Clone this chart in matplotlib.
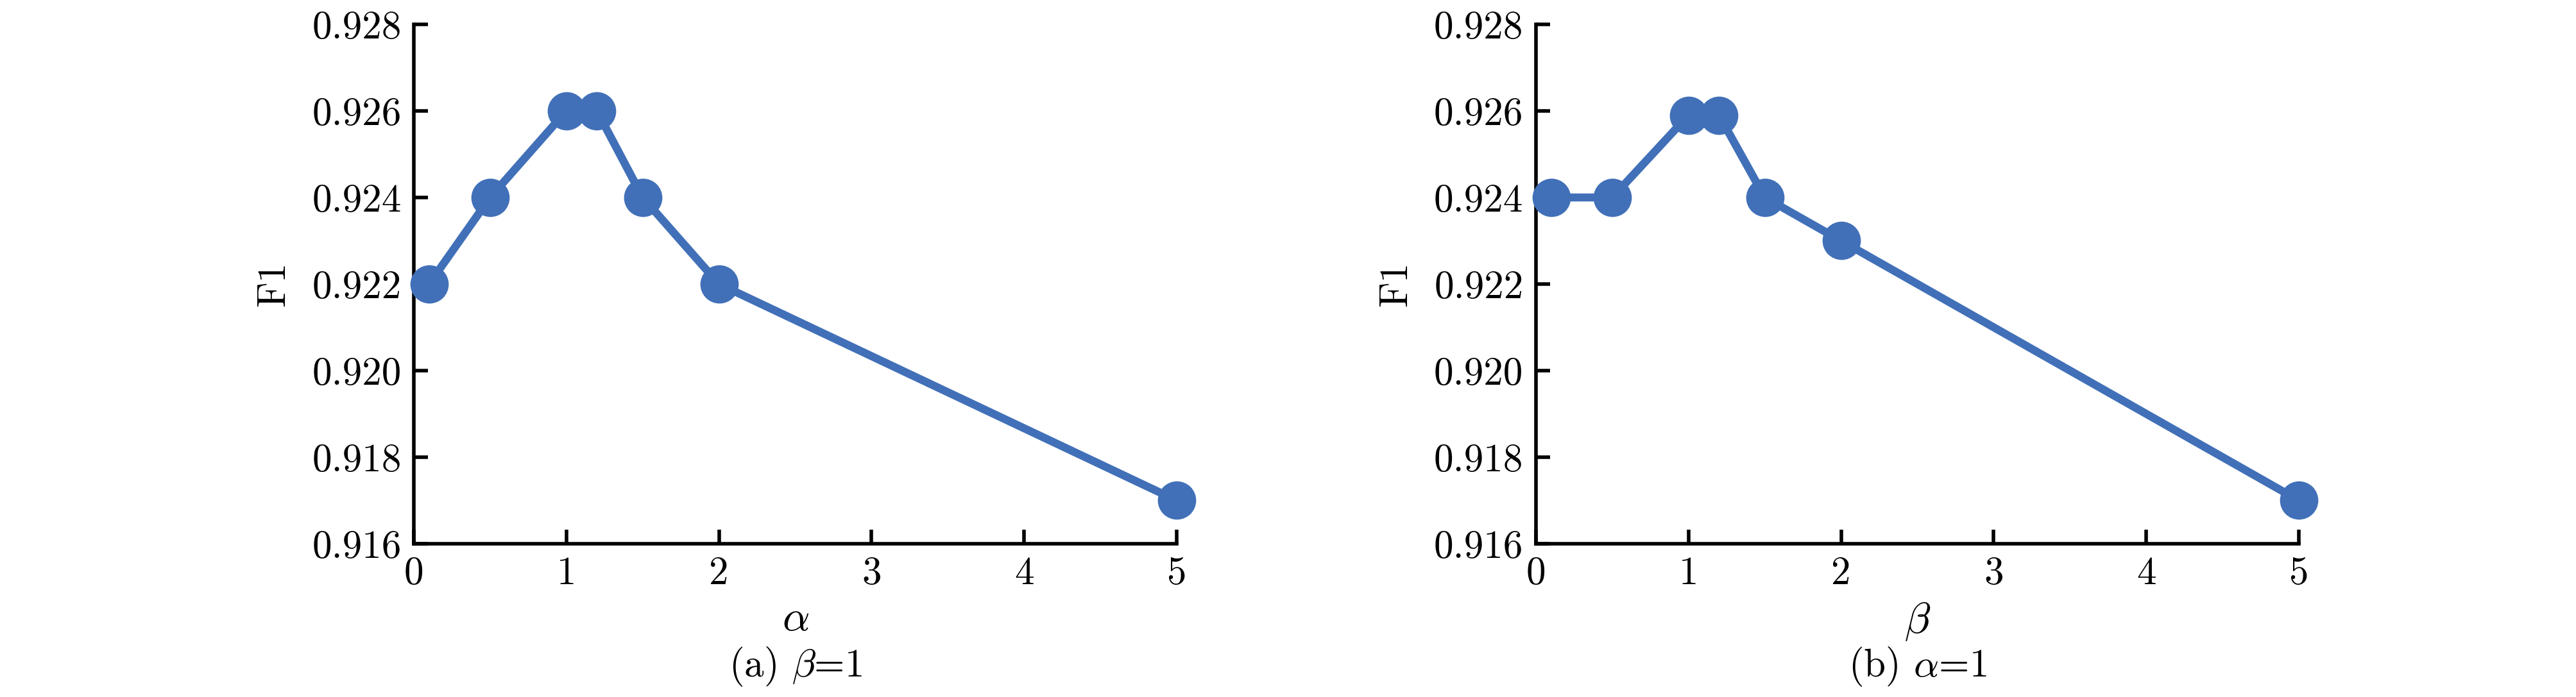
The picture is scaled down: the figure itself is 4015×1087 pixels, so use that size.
import matplotlib
matplotlib.use("Agg")
import matplotlib.pyplot as plt

# parameter values (same for both panels)
params = [0.1, 0.5, 1, 1.2, 1.5, 2, 5]
f1_alpha = [0.922, 0.924, 0.926, 0.926, 0.924, 0.922, 0.917]
f1_beta = [0.924, 0.924, 0.9259, 0.9259, 0.924, 0.923, 0.917]

xticks = [0, 1, 2, 3, 4, 5]
yticks = [0.916, 0.918, 0.920, 0.922, 0.924, 0.926, 0.928]
ytick_labels = ['0.916', '0.918', '0.920', '0.922', '0.924', '0.926', '0.928']

xlabels = [r'$\alpha$', r'$\beta$']
captions = [r'(a) $\beta$=1', r'(b) $\alpha$=1']

plt.rcParams['font.family'] = 'cmr10'
plt.rcParams['mathtext.fontset'] = 'cm'
plt.rcParams['axes.unicode_minus'] = False
f_size = 44
blue = '#4170B8'

fig = plt.figure(figsize=(40.16, 10.87), dpi=100)
ax1 = fig.add_axes([0.1606, 0.2199, 0.2961, 0.7452])
ax2 = fig.add_axes([0.5961, 0.2199, 0.2961, 0.7452])

for ax, ys, xl, cap in zip([ax1, ax2], [f1_alpha, f1_beta], xlabels, captions):
    ax.plot(params, ys, '-o', color=blue, lw=9, markersize=42, clip_on=False, zorder=3)
    ax.set_xlim(0, 5)
    ax.set_ylim(0.916, 0.928)
    ax.set_xticks(xticks)
    ax.set_xticklabels([str(t) for t in xticks])
    ax.set_yticks(yticks)
    ax.set_yticklabels(ytick_labels)
    ax.spines['top'].set_visible(False)
    ax.spines['right'].set_visible(False)
    ax.spines['left'].set_linewidth(4)
    ax.spines['bottom'].set_linewidth(4)
    ax.tick_params(direction='in', length=16, width=4, labelsize=f_size, pad=14)
    ax.set_ylabel('F1', fontsize=f_size, labelpad=22)
    ax.set_xlabel(xl, fontsize=f_size + 4, labelpad=10)
    ax.text(0.5, -0.237, cap, transform=ax.transAxes, ha='center', va='center', fontsize=f_size)

plt.savefig('out.png', dpi=100)
